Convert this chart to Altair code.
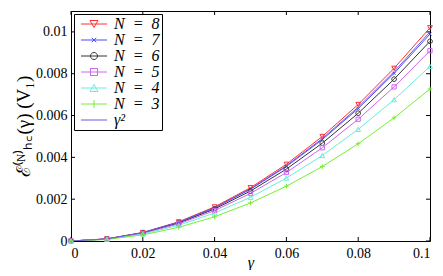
import altair as alt
import pandas as pd

gamma = [0.0, 0.01, 0.02, 0.03, 0.04, 0.05, 0.06, 0.07, 0.08, 0.09, 0.1]
e8 = [0.0, 0.000102, 0.000408, 0.000918, 0.001632, 0.00255, 0.00367, 0.0050, 0.00653, 0.00826, 0.0102]
e7 = [0.0, 0.000099, 0.000396, 0.000891, 0.001584, 0.002475, 0.003564, 0.004851, 0.006336, 0.008019, 0.0099]
e6 = [0.0, 0.0000955, 0.000382, 0.00086, 0.00153, 0.00239, 0.00344, 0.00468, 0.00611, 0.00774, 0.00955]
e5 = [0.0, 0.000091, 0.000364, 0.000819, 0.001456, 0.002275, 0.003276, 0.004459, 0.005824, 0.007371, 0.0091]
e4 = [0.0, 0.0000835, 0.000334, 0.00075, 0.00134, 0.00209, 0.00301, 0.00409, 0.00534, 0.00676, 0.00835]
e3 = [0.0, 0.0000727, 0.000291, 0.000654, 0.00116, 0.00182, 0.00262, 0.00356, 0.00465, 0.00589, 0.00727]
g2 = [0.0, 0.0001, 0.0004, 0.0009, 0.0016, 0.0025, 0.0036, 0.0049, 0.0064, 0.0081, 0.01]

series_names = ["N\u2002=\u20028", "N\u2002=\u20027", "N\u2002=\u20026", "N\u2002=\u20025",
                "N\u2002=\u20024", "N\u2002=\u20023", "γ²"]
series_vals = [e8, e7, e6, e5, e4, e3, g2]
colors = ["#ff3030", "#4a4aff", "#333333", "#cc66ee", "#66eedd", "#77ee33", "#7755dd"]

x_ticks = [0, 0.02, 0.04, 0.06, 0.08, 0.1]
y_ticks = [0, 0.002, 0.004, 0.006, 0.008, 0.01]

rows = []
for name, vals in zip(series_names, series_vals):
    for g, v in zip(gamma, vals):
        rows.append({"gamma": g, "E": v, "series": name})
df = pd.DataFrame(rows)

W, H = 359, 230
FONT = "Liberation Serif, Times New Roman, serif"

# marker shapes on data points
pt_shapes = [
    "M-1,-0.9L1,-0.9L0,0.9Z",
    "M-0.7,-0.7L0.7,0.7M-0.7,0.7L0.7,-0.7",
    "M1,0A1,1 0 1,1 -1,0A1,1 0 1,1 1,0",
    "M-0.9,-0.9H0.9V0.9H-0.9Z",
    "M-1,0.9L1,0.9L0,-0.9Z",
    "M-1,0H1M0,-1V1",
]
# legend symbols: line + marker (unit = sqrt(size)/2)
lg_shapes = [
    "M-2.6,0H2.6M-0.8,-0.7L0.8,-0.7L0,0.7Z",
    "M-2.6,0H2.6M-0.45,-0.45L0.45,0.45M-0.45,0.45L0.45,-0.45",
    "M-2.6,0H2.6M0.7,0A0.7,0.7 0 1,1 -0.7,0A0.7,0.7 0 1,1 0.7,0",
    "M-2.6,0H2.6M-0.7,-0.7H0.7V0.7H-0.7Z",
    "M-2.6,0H2.6M-0.8,0.7L0.8,0.7L0,-0.7Z",
    "M-2.6,0H2.6M0,-0.8V0.8",
    "M-2.6,0H2.6",
]

xs = alt.Scale(domain=[0, 0.1], nice=False)
ys = alt.Scale(domain=[0, 0.011], nice=False)
cs = alt.Scale(domain=series_names, range=colors)

xenc = alt.X("gamma:Q", scale=xs, axis=alt.Axis(
    values=x_ticks, format="~g", title="γ", titleFontStyle="italic",
    titleFontSize=16, titlePadding=-6, labelPadding=5))
yenc = alt.Y("E:Q", scale=ys, axis=alt.Axis(
    values=y_ticks, format="~g", title="ℰ⁽ᴺ⁾ₕ꜀(γ)    (V₁)",
    titleFontSize=19, titlePadding=2, labelPadding=4))

lines = alt.Chart(df).mark_line(strokeWidth=1, clip=True).encode(
    x=xenc, y=yenc,
    color=alt.Color("series:N", scale=cs),
    detail="series:N",
)

point_layers = []
for name, shp in zip(series_names[:6], pt_shapes):
    sz = 18 if "7" in name else 22
    point_layers.append(
        alt.Chart(df[df.series == name]).mark_point(
            filled=False, strokeWidth=1, size=sz, opacity=1, shape=shp).encode(
            x="gamma:Q", y="E:Q",
            color=alt.Color("series:N", scale=cs),
        )
    )

legend_layer = alt.Chart(df).transform_filter("false").mark_point(
    filled=False, strokeWidth=1, opacity=1).encode(
    x="gamma:Q", y="E:Q",
    color=alt.Color("series:N", scale=cs),
    shape=alt.Shape("series:N", scale=alt.Scale(domain=series_names, range=lg_shapes)),
)

tick_df_x = pd.DataFrame({"gamma": x_ticks})
tick_df_y = pd.DataFrame({"E": y_ticks})
tb = alt.Chart(tick_df_x).mark_rule(color="black", strokeWidth=1).encode(
    x="gamma:Q", y=alt.value(H), y2=alt.value(H - 4))
tt = alt.Chart(tick_df_x).mark_rule(color="black", strokeWidth=1).encode(
    x="gamma:Q", y=alt.value(0), y2=alt.value(4))
tl = alt.Chart(tick_df_y).mark_rule(color="black", strokeWidth=1).encode(
    y="E:Q", x=alt.value(0), x2=alt.value(4))
tr = alt.Chart(tick_df_y).mark_rule(color="black", strokeWidth=1).encode(
    y="E:Q", x=alt.value(W), x2=alt.value(W - 4))

chart = alt.layer(tb, tt, tl, tr, lines, *point_layers, legend_layer).properties(
    width=W, height=H, padding={"left": 6, "top": 2, "right": 0, "bottom": 0}
).configure_view(stroke="black", strokeWidth=1).configure_axis(
    labelFont=FONT, titleFont=FONT, labelFontSize=14, titleFontWeight="normal",
    labelColor="black", titleColor="black", domain=False, ticks=False, grid=False,
).configure_legend(
    title=None, orient="top-left", offset=3, strokeColor="black",
    padding=2, fillColor="white", labelFont=FONT,
    labelFontSize=16, labelFontStyle="italic", symbolSize=100,
    symbolStrokeWidth=1, labelOffset=12, rowPadding=0, symbolOffset=10,
    labelLimit=200, labelColor="black", symbolFillColor="transparent",
)

chart.save("out.html", embed_options={"renderer": "svg", "actions": False})
